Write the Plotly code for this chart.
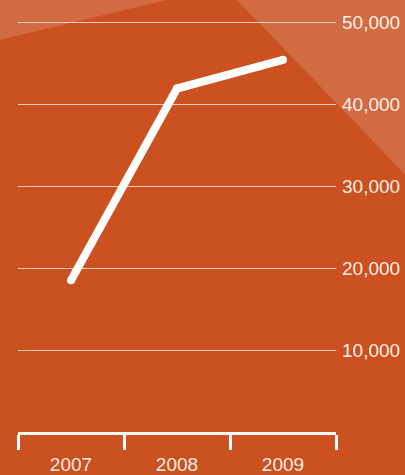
import plotly.graph_objects as go

years = ["2007", "2008", "2009"]
values = [18500, 41900, 45400]
y_ticks = [10000, 20000, 30000, 40000, 50000]
y_tick_labels = ["10,000", "20,000", "30,000", "40,000", "50,000"]

BG = "#CB5220"
W, H = 405, 475
L, R, T, B = 18, 69, 0, 41
pw, ph = W - L - R, H - T - B


def px_to_paper(px, py):
    return (px - L) / pw, (H - B - py) / ph


def path(points):
    pts = [px_to_paper(x, y) for x, y in points]
    return "M " + " L ".join(f"{x:.4f},{y:.4f}" for x, y in pts) + " Z"


fig = go.Figure()
fig.add_trace(go.Scatter(
    x=years, y=values, mode="lines+markers",
    line=dict(color="white", width=8),
    marker=dict(color="white", size=8),
    hoverinfo="skip", showlegend=False,
))

shapes = [
    dict(type="path", xref="paper", yref="paper", layer="below",
         path=path([(0, 0), (167, 0), (0, 40)]),
         fillcolor="rgba(255,255,255,0.15)", line=dict(width=0)),
    dict(type="path", xref="paper", yref="paper", layer="below",
         path=path([(237, 0), (405, 0), (405, 175)]),
         fillcolor="rgba(255,255,255,0.15)", line=dict(width=0)),
]

fig.update_layout(
    width=W, height=H,
    margin=dict(l=L, r=R, t=T, b=B),
    paper_bgcolor=BG, plot_bgcolor="rgba(0,0,0,0)",
    shapes=shapes,
    font=dict(family="Liberation Sans, Arial, sans-serif"),
    xaxis=dict(
        type="category", range=[-0.5, 2.5], tickson="boundaries",
        showgrid=False, zeroline=False,
        showline=True, linecolor="white", linewidth=3,
        ticks="outside", ticklen=15, tickwidth=3, tickcolor="white",
        tickfont=dict(size=19, color="rgba(255,255,255,0.9)"),
        ticklabelstandoff=13,
        fixedrange=True,
    ),
    yaxis=dict(
        side="right", range=[0, 52700],
        tickvals=y_ticks, ticktext=y_tick_labels,
        showgrid=True, gridcolor="rgba(255,255,255,0.7)", gridwidth=1,
        zeroline=False, showline=False, ticks="",
        tickfont=dict(size=19, color="rgba(255,255,255,0.92)"),
        ticklabelstandoff=5,
        fixedrange=True,
    ),
)

fig.write_html("out.html")
